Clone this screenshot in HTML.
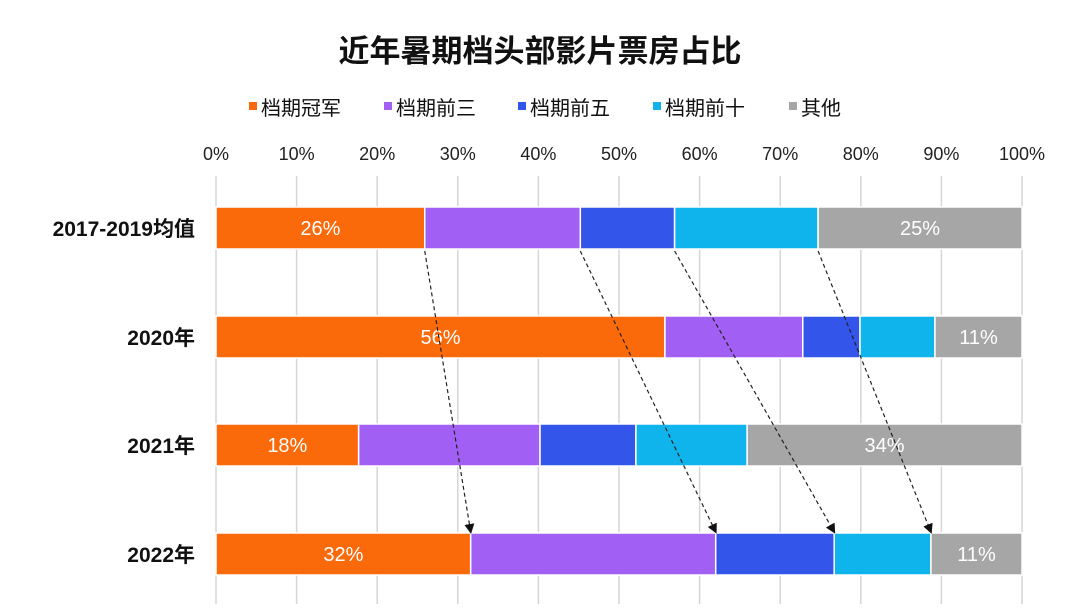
<!DOCTYPE html>
<html><head><meta charset="utf-8"><style>
body{margin:0;background:#fff;width:1080px;height:604px;overflow:hidden;font-family:"Liberation Sans","Noto Sans CJK SC",sans-serif;}
</style></head><body>
<svg id="chart" width="1080" height="604">
<defs><marker id="ah" markerWidth="10" markerHeight="10" refX="8" refY="5" orient="auto" markerUnits="userSpaceOnUse"><path d="M0,0 L10,5 L0,10 z" fill="#111"/></marker></defs>
<text x="540" y="62" text-anchor="middle" font-size="31" font-weight="bold" fill="#111" font-family="Liberation Sans,Noto Sans CJK SC,sans-serif">近年暑期档头部影片票房占比</text>
<g id="legend"></g>
<g id="grid"></g>
<g id="ticks"></g>
<g id="bars"></g>
<g id="arrows"></g>
<g id="cats"></g>
</svg>
<script>
const categories=["2017-2019均值","2020年","2021年","2022年"];
const seriesNames=["档期冠军","档期前三","档期前五","档期前十","其他"];
const champion=[25.9,55.7,17.7,31.6];
const top3=[19.3,17.1,22.5,30.4];
const top5=[11.7,7.1,11.9,14.7];
const top10=[17.8,9.3,13.8,12.0];
const others=[25.3,10.8,34.1,11.3];
const labelsChampion=["26%","56%","18%","32%"];
const labelsOthers=["25%","11%","34%","11%"];
const tickValues=[0,10,20,30,40,50,60,70,80,90,100];
const colors=["#fa6a0a","#a25ff4","#3355ea","#0fb4ec","#a6a6a6"];
const NS="http://www.w3.org/2000/svg";
const x0=216,x1=1022;
const xs=v=>x0+(x1-x0)*v/100;
const rowTop=[207,316,424,533],barH=42;
const yb=i=>rowTop[i];
function mk(tag,attrs,parent){const e=document.createElementNS(NS,tag);for(const k in attrs)e.setAttribute(k,attrs[k]);document.getElementById(parent).appendChild(e);return e;}
// grid + ticks
tickValues.forEach(t=>{
 const l=mk('line',{x1:xs(t),x2:xs(t),y1:176,y2:604,stroke:'#d6d6d6','stroke-width':1.5},'grid');
 
 
 const tx=mk('text',{x:xs(t),y:160,'text-anchor':'middle','font-size':18,fill:'#222'},'ticks');
 tx.textContent=t+'%';
 
 
});
// legend
const legX=[249,384,518,653,789];
seriesNames.forEach((n,i)=>{
 const r=mk('rect',{x:legX[i],y:102,width:8,height:8,fill:colors[i]},'legend');
 
 
 const t=mk('text',{x:legX[i]+12,y:115,'font-size':20,fill:'#111'},'legend');
 t.textContent=n;
 
 
});
const series=[champion,top3,top5,top10,others];
categories.forEach((c,i)=>{
 let cum=0;
 series.forEach((s,j)=>{
  const r=mk('rect',{x:xs(cum),y:yb(i),width:xs(cum+s[i])-xs(cum),height:barH,fill:colors[j],stroke:'#fff','stroke-width':1.5},'bars');
  
  
  cum+=s[i];
 });
 const a=mk('text',{x:xs(champion[i]/2),y:yb(i)+barH/2+7,'text-anchor':'middle','font-size':20,fill:'#fff'},'bars');
 a.textContent=labelsChampion[i];
 
 
 const b=mk('text',{x:xs(100-others[i]/2),y:yb(i)+barH/2+7,'text-anchor':'middle','font-size':20,fill:'#fff'},'bars');
 b.textContent=labelsOthers[i];
 
 
 const ct=mk('text',{x:195,y:yb(i)+barH/2+8,'text-anchor':'end','font-size':21,'font-weight':'bold',fill:'#111'},'cats');
 ct.textContent=c;
 
 
});
// arrows from first row boundaries to last row boundaries
let c1=0,c2=0;
for(let j=0;j<4;j++){
 c1+=series[j][0];c2+=series[j][3];
 const l=mk('line',{x1:xs(c1),y1:yb(0)+barH+2,x2:xs(c2),y2:yb(3)-1,stroke:'#222','stroke-width':1.2,'stroke-dasharray':'4,3','marker-end':'url(#ah)'},'arrows');
 
 
}
</script>
</body></html>
